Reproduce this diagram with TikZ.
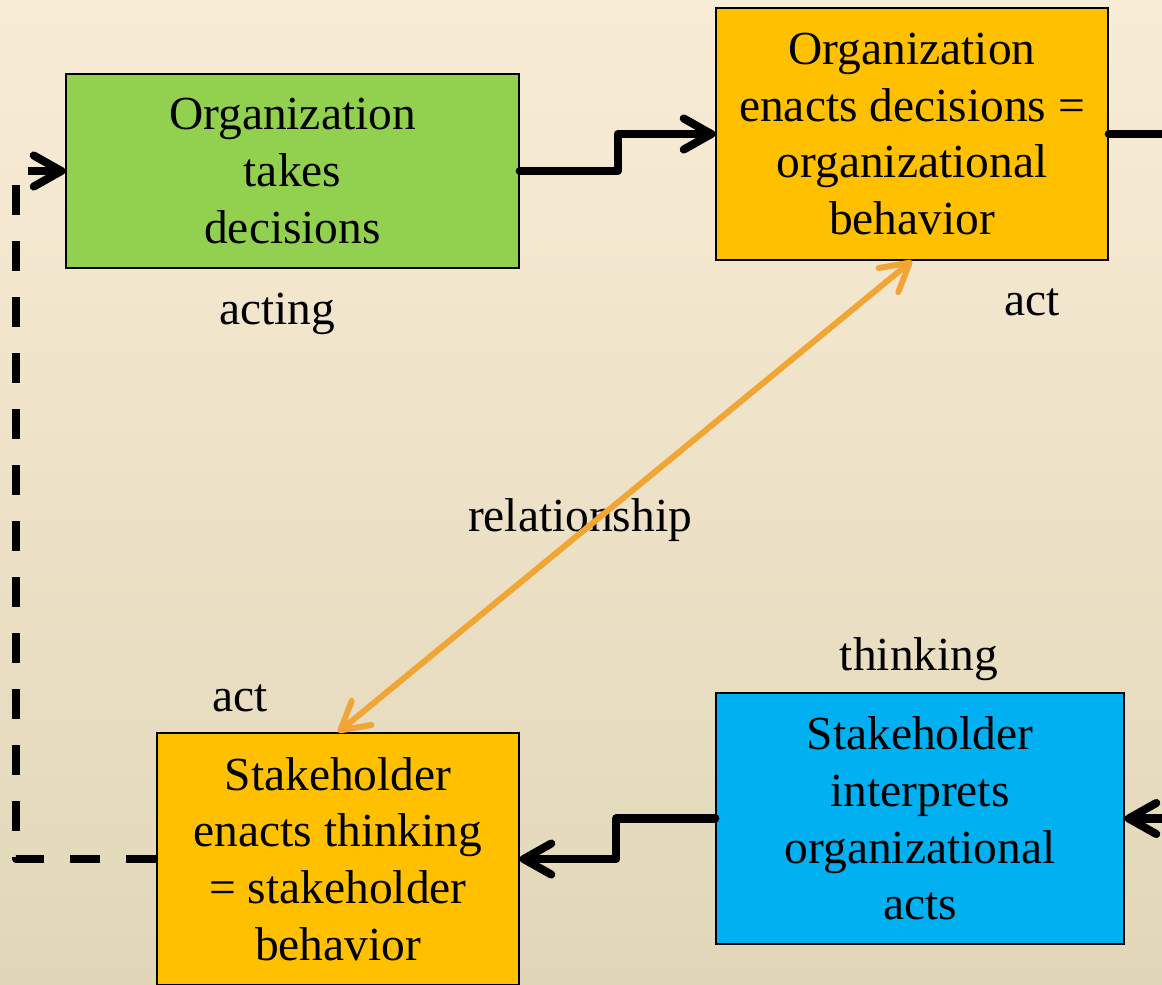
\documentclass[tikz,border=0pt]{standalone}
\usepackage{fontspec}
\setmainfont{Liberation Serif}
\usetikzlibrary{arrows.meta}
\definecolor{bgtop}{HTML}{F9ECD6}
\definecolor{bgbot}{HTML}{E1D7B8}
\definecolor{leafgreen}{HTML}{92D050}
\definecolor{amber}{HTML}{FFC000}
\definecolor{skyblue}{HTML}{00B0F0}
\definecolor{linkorange}{HTML}{F0A535}

\begin{document}
\begin{tikzpicture}[>={Straight Barb[length=0.55cm, width=0.62cm, line cap=round, line join=round]},
  every node/.style={font=\fontsize{27}{32.3}\selectfont},
  box/.style={draw, line width=0.8pt, align=center, inner sep=0pt},
  flow/.style={line width=4.6pt, line join=round, line cap=round}]
  % page and background
  \useasboundingbox (0,0) rectangle (23.24,-19.68);
  \clip (0,0) rectangle (23.24,-19.68);
  \shade[top color=bgtop, bottom color=bgbot] (0,0) rectangle (23.24,-19.68);

  % the four stages
  \node[box, fill=leafgreen, minimum width=9.06cm, minimum height=3.88cm] (decide) at (5.85,-3.42) {Organization\\takes\\decisions};
  \node[box, fill=amber, minimum width=7.84cm, minimum height=5.04cm] (enact) at (18.24,-2.68) {Organization\\enacts decisions =\\organizational\\behavior};
  \node[box, fill=skyblue, minimum width=8.16cm, minimum height=5.02cm] (interpret) at (18.4,-16.37) {Stakeholder\\interprets\\organizational\\acts};
  \node[box, fill=amber, minimum width=7.24cm, minimum height=5.04cm] (behave) at (6.76,-17.18) {Stakeholder\\enacts thinking\\= stakeholder\\behavior};

  % labels
  \node (acting) at (5.54,-6.28) {acting};
  \node (actorg) at (20.64,-6.04) {act};
  \node (relation) at (11.6,-10.4) {relationship};
  \node (thinking) at (18.38,-13.18) {thinking};
  \node (actstake) at (4.8,-13.96) {act};

  % loose ends leaving the page
  \coordinate (outright) at (23.8,-2.68);
  \coordinate (inright) at (23.8,-16.37);

  % cycle connectors
  \draw[flow, ->] (decide.east) -- ++(1.96,0) |- (enact.west);
  \draw[flow] (enact.east) -- (outright);
  \draw[flow, ->] (inright) -- (interpret.east);
  \draw[flow, ->] (interpret.west) -- ++(-1.98,0) |- (behave.east);
  \draw[flow, ->, line cap=butt, dash pattern=on 0.6cm off 0.52cm] (behave.west) -- ++(-2.8,0) |- (decide.west);

  % relationship link
  \draw[<->, linkorange, line width=3.4pt, line cap=round] (behave.north) -- (enact.south);
\end{tikzpicture}
\end{document}
